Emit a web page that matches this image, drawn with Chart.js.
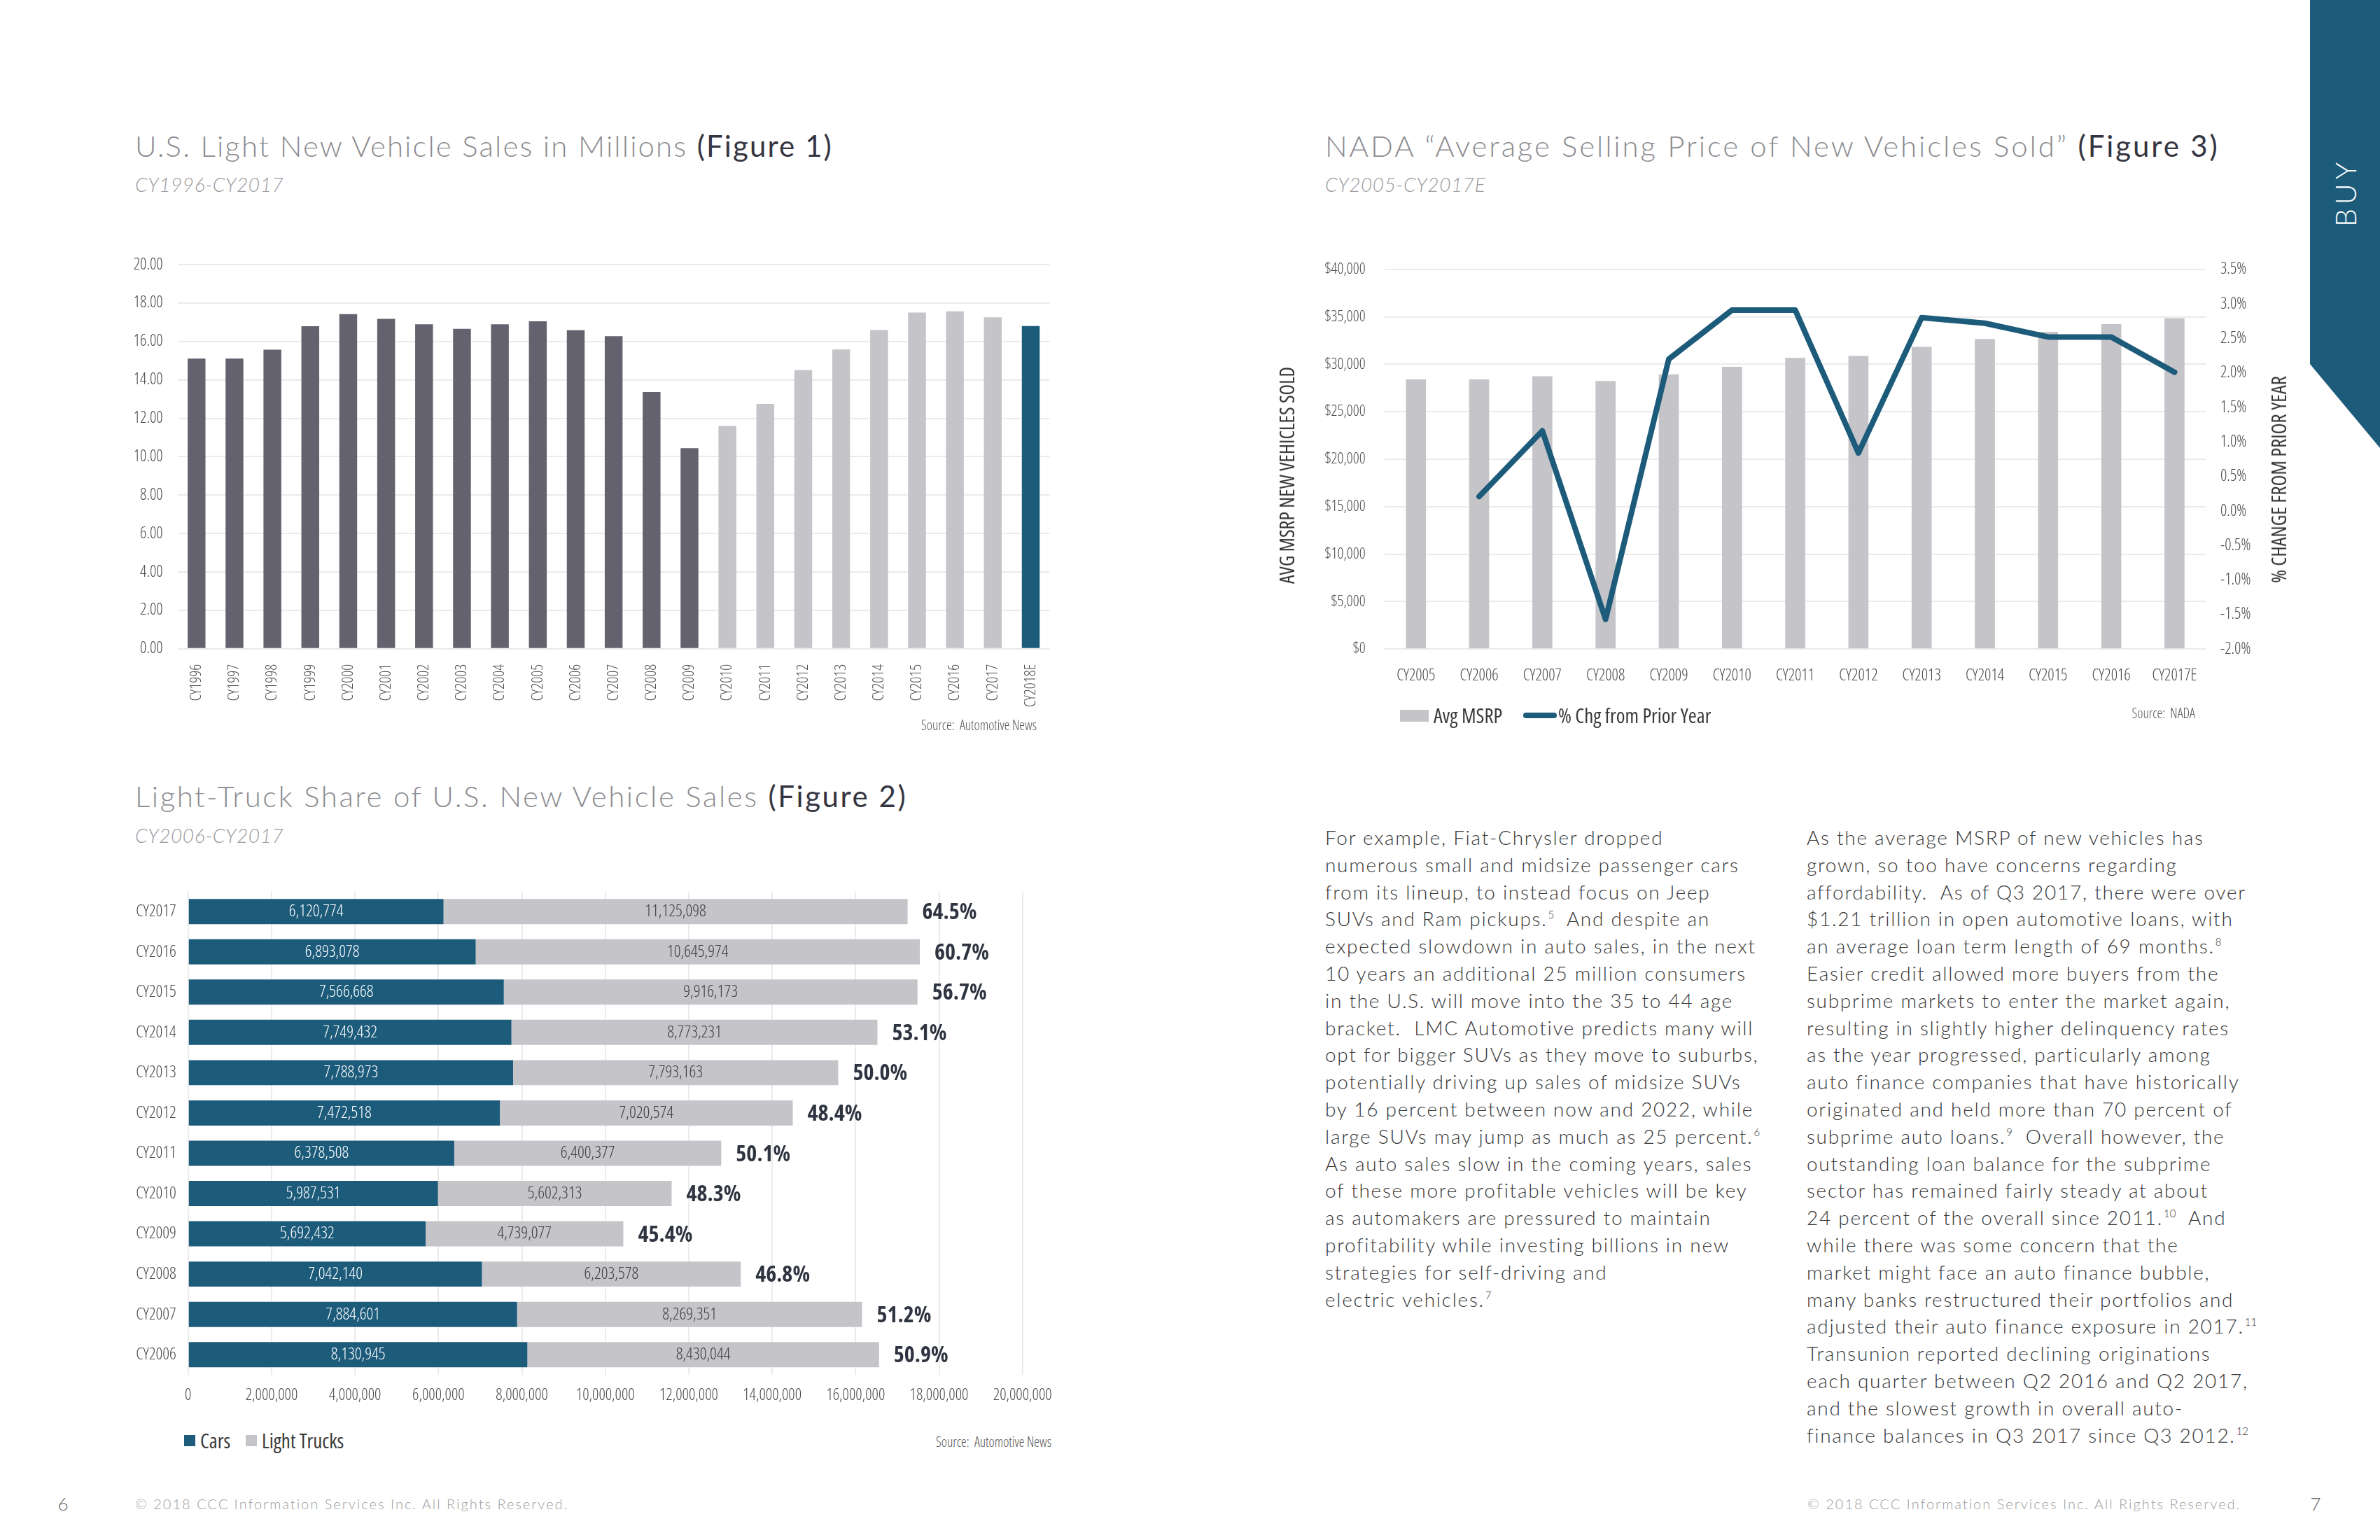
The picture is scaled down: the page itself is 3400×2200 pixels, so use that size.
<!DOCTYPE html>
<html><head><meta charset="utf-8">
<script src="https://cdn.jsdelivr.net/npm/chart.js@4.4.1/dist/chart.umd.min.js"></script>
<style>
html,body{margin:0;padding:0;background:#fff;}
body{width:3400px;height:2200px;position:relative;overflow:hidden;font-family:Lato,"Open Sans",sans-serif;}
.abs{position:absolute;white-space:nowrap;}
.title{font-size:42px;font-weight:300;color:#8b8b90;line-height:42px;letter-spacing:2.1px}
.title b{font-weight:400;color:#353541}
.sub{font-size:28px;font-style:italic;font-weight:300;color:#9a9a9e;line-height:28px;letter-spacing:0.6px}
.body{font-size:28px;font-weight:300;color:#383838;line-height:38.8px;letter-spacing:1.72px}
.body sup{font-size:15px;line-height:0;vertical-align:baseline;position:relative;top:-11px;letter-spacing:0;margin-left:1px}
.cond{font-family:"Open Sans",sans-serif;font-stretch:75%;}
.src{font-size:19.5px;line-height:20px;color:#555;font-weight:300}
.leg{font-size:29px;line-height:29px;color:#3a3a3a;font-weight:400}
.foot{font-size:20px;font-weight:300;color:#9b9b9b;line-height:20px;letter-spacing:2px}
.rot{transform:translate(-50%,-50%) rotate(-90deg);transform-origin:center center;}
canvas{position:absolute;}
</style>
</head><body>

<!-- BUY tab -->
<div class="abs" style="left:3300px;top:0;width:100px;height:640px;background:#1d5b7b;clip-path:polygon(0 0,100% 0,100% 100%,0 81.25%);"></div>
<div class="abs rot" style="left:3350px;top:275px;color:#fff;font-size:41px;font-weight:300;letter-spacing:6px;line-height:41px;">BUY</div>

<!-- Titles -->
<div class="abs title" style="left:193px;top:187px;">U.S. Light New Vehicle Sales in Millions <b>(Figure 1)</b></div>
<div class="abs sub" style="left:193px;top:249px;">CY1996-CY2017</div>
<div class="abs title" style="left:193px;top:1116px;letter-spacing:2.55px;">Light-Truck Share of U.S. New Vehicle Sales <b>(Figure 2)</b></div>
<div class="abs sub" style="left:193px;top:1179px;">CY2006-CY2017</div>
<div class="abs title" style="left:1893px;top:187px;letter-spacing:2.9px;">NADA “Average Selling Price of New Vehicles Sold” <b>(Figure 3)</b></div>
<div class="abs sub" style="left:1893px;top:249px;">CY2005-CY2017E</div>

<!-- Charts -->
<canvas id="fig1" width="1340" height="740" style="left:180px;top:340px;width:1340px;height:740px;"></canvas>
<canvas id="fig2" width="1340" height="780" style="left:180px;top:1250px;width:1340px;height:780px;"></canvas>
<canvas id="fig3" width="1500" height="720" style="left:1800px;top:340px;width:1500px;height:720px;"></canvas>

<!-- Sources -->
<div class="abs cond src" style="right:1919px;top:1026px;">Source:&nbsp; Automotive News</div>
<div class="abs cond src" style="right:1898px;top:2050px;">Source:&nbsp; Automotive News</div>
<div class="abs cond src" style="right:264px;top:1009px;">Source:&nbsp; NADA</div>

<!-- Fig 2 legend -->
<div class="abs" style="left:263px;top:2050px;width:16px;height:16px;background:#1d5b7b;"></div>
<div class="abs cond leg" style="left:286px;top:2043px;">Cars</div>
<div class="abs" style="left:351px;top:2050px;width:16px;height:16px;background:#c5c4c9;"></div>
<div class="abs cond leg" style="left:374px;top:2043px;">Light Trucks</div>

<!-- Fig 3 legend -->
<div class="abs" style="left:2000px;top:1014px;width:41px;height:17px;background:#c5c4c9;"></div>
<div class="abs cond leg" style="left:2048px;top:1007px;">Avg MSRP</div>
<div class="abs" style="left:2176px;top:1018px;width:48px;height:8px;border-radius:4px;background:#1d5b7b;"></div>
<div class="abs cond leg" style="left:2226px;top:1007px;">% Chg from Prior Year</div>

<!-- Fig 3 axis titles -->
<div class="abs cond rot" style="left:1838px;top:679px;font-size:28.5px;line-height:28px;color:#333;font-weight:400;">AVG MSRP NEW VEHICLES SOLD</div>
<div class="abs cond rot" style="left:3255px;top:685px;font-size:29px;line-height:28px;color:#333;font-weight:400;">% CHANGE FROM PRIOR YEAR</div>

<!-- Body text -->
<div class="abs body" style="left:1893px;top:1177px;">For example, Fiat-Chrysler dropped<br>numerous small and midsize passenger cars<br>from its lineup, to instead focus on Jeep<br>SUVs and Ram pickups.<sup>5</sup>&nbsp; And despite an<br>expected slowdown in auto sales, in the next<br>10 years an additional 25 million consumers<br>in the U.S. will move into the 35 to 44 age<br>bracket.&nbsp; LMC Automotive predicts many will<br>opt for bigger SUVs as they move to suburbs,<br>potentially driving up sales of midsize SUVs<br>by 16 percent between now and 2022, while<br>large SUVs may jump as much as 25 percent.<sup>6</sup><br>As auto sales slow in the coming years, sales<br>of these more profitable vehicles will be key<br>as automakers are pressured to maintain<br>profitability while investing billions in new<br>strategies for self-driving and<br>electric vehicles.<sup>7</sup></div>

<div class="abs body" style="left:2581px;top:1177px;">As the average MSRP of new vehicles has<br>grown, so too have concerns regarding<br>affordability.&nbsp; As of Q3 2017, there were over<br>$1.21 trillion in open automotive loans, with<br>an average loan term length of 69 months.<sup>8</sup><br>Easier credit allowed more buyers from the<br>subprime markets to enter the market again,<br>resulting in slightly higher delinquency rates<br>as the year progressed, particularly among<br>auto finance companies that have historically<br>originated and held more than 70 percent of<br>subprime auto loans.<sup>9</sup>&nbsp; Overall however, the<br>outstanding loan balance for the subprime<br>sector has remained fairly steady at about<br>24 percent of the overall since 2011.<sup>10</sup>&nbsp; And<br>while there was some concern that the<br>market might face an auto finance bubble,<br>many banks restructured their portfolios and<br>adjusted their auto finance exposure in 2017.<sup>11</sup><br>Transunion reported declining originations<br>each quarter between Q2 2016 and Q2 2017,<br>and the slowest growth in overall auto-<br>finance balances in Q3 2017 since Q3 2012.<sup>12</sup></div>

<!-- Footer -->
<div class="abs" style="left:90px;top:2148px;font-size:26px;font-weight:300;color:#666;line-height:26px;transform:translate(-50%,-50%);">6</div>
<div class="abs foot" style="left:193px;top:2138px;">© 2018 CCC Information Services Inc. All Rights Reserved.</div>
<div class="abs foot" style="left:2582px;top:2138px;">© 2018 CCC Information Services Inc. All Rights Reserved.</div>
<div class="abs" style="left:3308px;top:2148px;font-size:26px;font-weight:300;color:#666;line-height:26px;transform:translate(-50%,-50%);">7</div>

<script>
// ---------- DATA ----------
const fig1Labels = ['CY1996','CY1997','CY1998','CY1999','CY2000','CY2001','CY2002','CY2003','CY2004','CY2005','CY2006','CY2007','CY2008','CY2009','CY2010','CY2011','CY2012','CY2013','CY2014','CY2015','CY2016','CY2017','CY2018E'];
const fig1Sales = [15.11,15.11,15.57,16.79,17.42,17.18,16.89,16.66,16.89,17.05,16.58,16.27,13.37,10.44,11.60,12.75,14.51,15.58,16.59,17.50,17.57,17.26,16.80];
const fig1YTicks = [0,2,4,6,8,10,12,14,16,18,20];

const fig2Labels = ['CY2017','CY2016','CY2015','CY2014','CY2013','CY2012','CY2011','CY2010','CY2009','CY2008','CY2007','CY2006'];
const fig2Cars = [6120774,6893078,7566668,7749432,7788973,7472518,6378508,5987531,5692432,7042140,7884601,8130945];
const fig2Trucks = [11125098,10645974,9916173,8773231,7793163,7020574,6400377,5602313,4739077,6203578,8269351,8430044];
const fig2Share = [64.5,60.7,56.7,53.1,50.0,48.4,50.1,48.3,45.4,46.8,51.2,50.9];

const fig3Labels = ['CY2005','CY2006','CY2007','CY2008','CY2009','CY2010','CY2011','CY2012','CY2013','CY2014','CY2015','CY2016','CY2017E'];
const fig3Msrp = [28410,28410,28740,28250,28940,29730,30680,30880,31830,32660,33420,34240,34860];
const fig3Change = [null,0.21,1.16,-1.57,2.20,2.91,2.91,0.84,2.80,2.72,2.52,2.52,2.01];

// ---------- STYLE ----------
const FAMILY = '"Open Sans", sans-serif';
const LIGHTW = '300 condensed';   // weight + font-stretch in the canvas font string
const DARK = '#63626e', LIGHT = '#c5c4c9', BLUE = '#1d5b7b', GRID = '#ebebeb';
Chart.defaults.font.family = FAMILY;
Chart.defaults.font.weight = LIGHTW;
Chart.defaults.color = '#4a4a4a';
Chart.defaults.animation = false;
Chart.defaults.responsive = false;
Chart.defaults.devicePixelRatio = 1;
Chart.defaults.plugins.legend.display = false;
Chart.defaults.plugins.tooltip.enabled = false;

const fig1Colors = fig1Labels.map(l => l === 'CY2018E' ? BLUE : (parseInt(l.slice(2)) <= 2009 ? DARK : LIGHT));

// ---------- FIGURE 1 ----------
new Chart(document.getElementById('fig1'), {
  type: 'bar',
  data: { labels: fig1Labels, datasets: [{ data: fig1Sales, backgroundColor: fig1Colors, barPercentage: 0.47, categoryPercentage: 1 }] },
  options: {
    layout: { padding: { left: 0, right: 20.4, top: 38, bottom: 0 } },
    scales: {
      x: {
        grid: { display: false }, border: { display: false },
        ticks: { minRotation: 90, maxRotation: 90, autoSkip: false, padding: 14, font: { size: 22, weight: LIGHTW } },
        afterFit: s => { s.height = 153.2; }
      },
      y: {
        min: 0, max: 20,
        afterBuildTicks: s => { s.ticks = fig1YTicks.map(v => ({ value: v })); },
        grid: { color: GRID, lineWidth: 2, drawTicks: false }, border: { display: false },
        ticks: { padding: 21, font: { size: 23, weight: LIGHTW }, callback: v => Number(v).toFixed(2) },
        afterFit: s => { s.width = 73.7; }
      }
    }
  }
});

// ---------- FIGURE 2 ----------
const fig2LabelPlugin = {
  id: 'fig2Labels',
  afterDatasetsDraw(chart) {
    const ctx = chart.ctx;
    ctx.save();
    ctx.textBaseline = 'middle';
    ctx.textAlign = 'center';
    ctx.font = '300 condensed 24px ' + FAMILY;
    chart.data.datasets.forEach((ds, di) => {
      const meta = chart.getDatasetMeta(di);
      ctx.fillStyle = di === 0 ? '#ffffff' : '#3d3d45';
      meta.data.forEach((el, i) => {
        const p = el.getProps(['x', 'y', 'base'], true);
        ctx.fillText(ds.data[i].toLocaleString('en-US'), (p.x + p.base) / 2, p.y);
      });
    });
    const tm = chart.getDatasetMeta(1);
    ctx.textAlign = 'left';
    ctx.font = '700 condensed 32px ' + FAMILY;
    ctx.fillStyle = '#2f3441';
    tm.data.forEach((el, i) => {
      const p = el.getProps(['x', 'y'], true);
      ctx.fillText(fig2Share[i].toFixed(1) + '%', p.x + 21, p.y + 2);
    });
    ctx.restore();
  }
};

new Chart(document.getElementById('fig2'), {
  type: 'bar',
  data: {
    labels: fig2Labels,
    datasets: [
      { label: 'Cars', data: fig2Cars, backgroundColor: BLUE, barPercentage: 0.625, categoryPercentage: 1 },
      { label: 'Light Trucks', data: fig2Trucks, backgroundColor: LIGHT, barPercentage: 0.625, categoryPercentage: 1 }
    ]
  },
  options: {
    indexAxis: 'y',
    layout: { padding: { left: 0, right: 59.3, top: 23, bottom: 0 } },
    scales: {
      x: {
        stacked: true, min: 0, max: 20000000,
        ticks: { stepSize: 2000000, padding: 16, font: { size: 23, weight: LIGHTW }, callback: v => Number(v).toLocaleString('en-US') },
        grid: { color: GRID, lineWidth: 2, drawTicks: false }, border: { display: false },
        afterFit: s => { s.height = 66; }
      },
      y: {
        stacked: true,
        grid: { display: false }, border: { display: false },
        ticks: { padding: 9, font: { size: 24, weight: LIGHTW } },
        afterFit: s => { s.width = 88.8; }
      }
    }
  },
  plugins: [fig2LabelPlugin]
});

// ---------- FIGURE 3 ----------
new Chart(document.getElementById('fig3'), {
  data: {
    labels: fig3Labels,
    datasets: [
      { type: 'line', label: '% Chg from Prior Year', data: fig3Change, yAxisID: 'y1', order: 0,
        borderColor: BLUE, borderWidth: 8, pointRadius: 0, tension: 0, borderJoinStyle: 'round', borderCapStyle: 'round', spanGaps: false },
      { type: 'bar', label: 'Avg MSRP', data: fig3Msrp, yAxisID: 'y', order: 1,
        backgroundColor: LIGHT, barPercentage: 0.317, categoryPercentage: 1 }
    ]
  },
  options: {
    layout: { padding: { left: 0, right: 0, top: 44.8, bottom: 0 } },
    scales: {
      x: {
        grid: { display: false }, border: { display: false },
        ticks: { padding: 16, font: { size: 23, weight: LIGHTW }, autoSkip: false, maxRotation: 0 },
        afterFit: s => { s.height = 132.8; }
      },
      y: {
        position: 'left', min: 0, max: 40000,
        ticks: { stepSize: 5000, padding: 27, font: { size: 22, weight: LIGHTW }, callback: v => '$' + Number(v).toLocaleString('en-US') },
        grid: { color: GRID, lineWidth: 2, drawTicks: false }, border: { display: false },
        afterFit: s => { s.width = 177.6; }
      },
      y1: {
        position: 'right', min: -2, max: 3.5,
        ticks: { stepSize: 0.5, padding: 20.4, font: { size: 23, weight: LIGHTW }, callback: v => Number(v).toFixed(1) + '%' },
        grid: { drawOnChartArea: false, drawTicks: false }, border: { display: false },
        afterFit: s => { s.width = 148.4; }
      }
    }
  }
});
</script>
</body></html>
